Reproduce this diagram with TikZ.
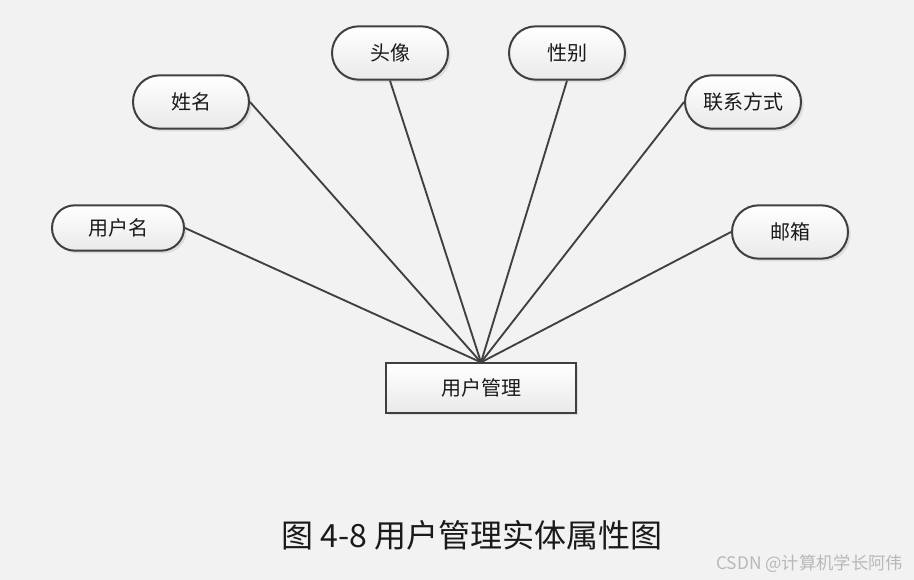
\documentclass[tikz,border=0pt]{standalone}
\usepackage{fontspec}
\setmainfont{Noto Sans CJK SC}
\newfontfamily\cjk{Noto Sans CJK SC}
\usepackage{xcolor}
\definecolor{cBack}{HTML}{F2F2F2}
\definecolor{cLine}{HTML}{404040}
\definecolor{cText}{HTML}{1A1A1A}
\definecolor{cMark}{HTML}{B8B8B8}
\usetikzlibrary{positioning,shapes.misc,shadows}
\tikzset{
  node-attr/.style={draw=cLine,line width=1.5pt,rounded rectangle,
    minimum height=40pt,minimum width=87pt,inner sep=0pt,
    top color=white,bottom color=cBack!80!gray!60,
    drop shadow={shadow xshift=2pt,shadow yshift=-2pt,opacity=.18,fill=gray},
    font=\cjk\fontsize{15}{15}\selectfont,text=cText},
  node-entity/.style={draw=cLine,line width=1.5pt,rectangle,
    minimum height=37pt,minimum width=142pt,inner sep=0pt,
    top color=white,bottom color=cBack!80!gray!60,
    drop shadow={shadow xshift=2pt,shadow yshift=-2pt,opacity=.18,fill=gray},
    font=\cjk\fontsize{15}{15}\selectfont,text=cText},
  link/.style={draw=cLine,line width=1.4pt},
}
\begin{document}
\begin{tikzpicture}[x=0.75pt,y=-0.75pt]
  \fill[cBack] (0,0) rectangle (914,580);
  \useasboundingbox (0,0) rectangle (914,580);
  % attributes
  \node[node-attr] (name)   at (191,102) {姓名};
  \node[node-attr] (avatar) at (390,53)  {头像};
  \node[node-attr] (sex)    at (567,53)  {性别};
  \node[node-attr] (phone)  at (743,102) {联系方式};
  \node[node-attr,minimum width=99pt,minimum height=34pt] (user) at (118,228) {用户名};
  \node[node-attr] (mail)   at (790,232) {邮箱};
  % entity
  \node[node-entity] (mgr) at (481,388) {用户管理};
  \coordinate (hub) at (mgr.north);
  \draw[link] (user.east)    -- (hub);
  \draw[link] (name.east)    -- (hub);
  \draw[link] (avatar.south) -- (hub);
  \draw[link] (sex.south)    -- (hub);
  \draw[link] (phone.west)   -- (hub);
  \draw[link] (mail.west)    -- (hub);
  \node[font=\cjk\fontsize{24}{24}\selectfont,text=cText] (cap) at (472,535) {图 4-8 用户管理实体属性图};
  \node[font=\cjk\fontsize{13}{13}\selectfont,text=cMark,anchor=east] (mark) at (908,564) {CSDN @计算机学长阿伟};
\end{tikzpicture}
\end{document}
